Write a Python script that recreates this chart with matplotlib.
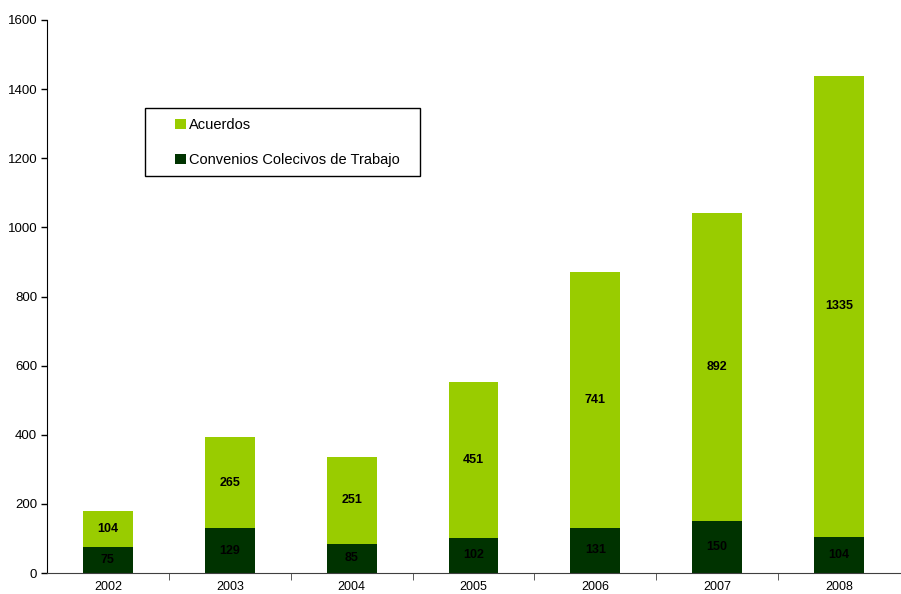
import numpy as np
import matplotlib.pyplot as plt
from matplotlib.patches import Rectangle

plt.rcParams['font.family'] = ['Liberation Sans', 'DejaVu Sans']

# Datos por año
years = ["2002", "2003", "2004", "2005", "2006", "2007", "2008"]
convenios = [75, 129, 85, 102, 131, 150, 104]
acuerdos = [104, 265, 251, 451, 741, 892, 1335]

light = "#99CC00"
dark = "#003300"

W, H = 901, 594
fig = plt.figure(figsize=(W / 100, H / 100), dpi=100)
ax = fig.add_axes([47 / W, 21 / H, 853 / W, 553 / H])

x = np.arange(len(years))
w = 0.41
b1 = ax.bar(x, convenios, w, color=dark, label="Convenios Colecivos de Trabajo")
b2 = ax.bar(x, acuerdos, w, bottom=convenios, color=light, label="Acuerdos")

# etiquetas centradas en cada segmento
for xi, c, a in zip(x, convenios, acuerdos):
    ax.text(xi, c / 2, str(c), ha="center", va="center",
            fontsize=9, fontweight="bold", color="black")
    ax.text(xi, c + a / 2, str(a), ha="center", va="center",
            fontsize=9, fontweight="bold", color="black")

ax.set_xlim(-0.5, len(years) - 0.5)
ax.set_ylim(0, 1600)
ax.set_yticks(range(0, 1601, 200))

ax.set_xticks(x)
ax.set_xticklabels(years)
ax.set_xticks(np.arange(0.5, len(years) - 0.5), minor=True)
ax.tick_params(axis="x", which="major", length=0, pad=6, labelsize=9)
ax.tick_params(axis="x", which="minor", length=5, color="#404040")
ax.tick_params(axis="y", length=4, width=1, labelsize=9.5, pad=3)

for s in ["top", "right"]:
    ax.spines[s].set_visible(False)
ax.spines["left"].set_color("black")
ax.spines["bottom"].set_color("#404040")

# recuadro de la leyenda
box = Rectangle((145 / W, 1 - 176 / H), 275 / W, 68 / H, transform=fig.transFigure,
                facecolor="white", edgecolor="black", linewidth=1.0, zorder=5)
fig.add_artist(box)

leg = fig.legend([b2, b1], ["Acuerdos", "Convenios Colecivos de Trabajo"],
                 loc="upper left", bbox_to_anchor=(175 / W, 1 - 118 / H),
                 fontsize=10.5, frameon=False,
                 handlelength=0.75, handleheight=0.75, handletextpad=0.2,
                 labelspacing=1.45, borderpad=0, borderaxespad=0)
leg.set_zorder(6)

fig.savefig("out.png", dpi=100)
